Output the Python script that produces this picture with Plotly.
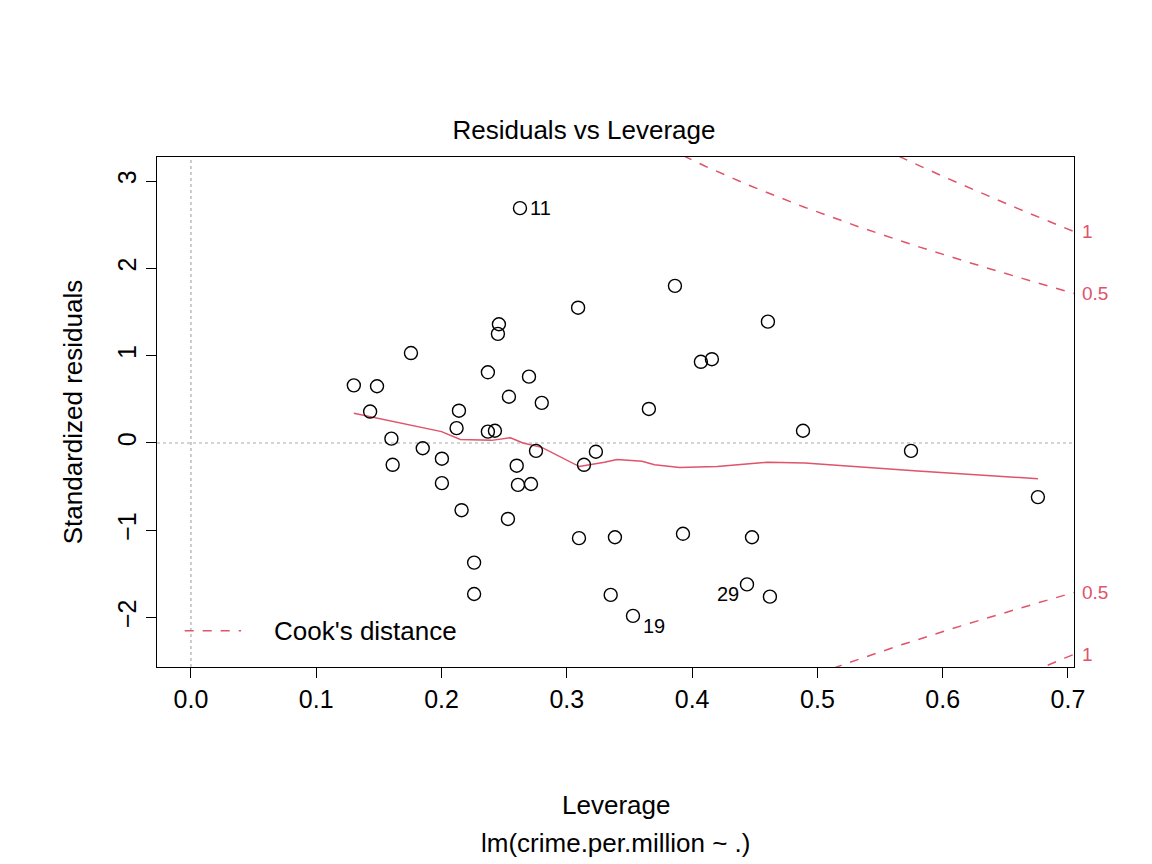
import numpy as np
import plotly.graph_objects as go

# leverage / standardized residuals
leverage = [0.2626, 0.130, 0.1485, 0.143, 0.1756, 0.160, 0.161, 0.185, 0.2003, 0.2003,
            0.2139, 0.212, 0.216, 0.226, 0.226, 0.237, 0.237, 0.2426, 0.2458, 0.245,
            0.2538, 0.253, 0.260, 0.261, 0.2698, 0.2714, 0.2754, 0.280, 0.309, 0.3097,
            0.3137, 0.3232, 0.3384, 0.335, 0.3528, 0.3655, 0.3863, 0.3927, 0.407, 0.4158,
            0.4478, 0.4438, 0.4605, 0.4621, 0.4885, 0.5747, 0.676]
std_resid = [2.69, 0.66, 0.65, 0.36, 1.03, 0.05, -0.25, -0.06, -0.18, -0.46,
             0.37, 0.17, -0.77, -1.37, -1.73, 0.81, 0.13, 0.14, 1.36, 1.25,
             0.53, -0.87, -0.26, -0.48, 0.76, -0.47, -0.09, 0.46, 1.55, -1.09,
             -0.25, -0.10, -1.08, -1.74, -1.98, 0.39, 1.80, -1.04, 0.93, 0.96,
             -1.08, -1.62, 1.39, -1.76, 0.14, -0.09, -0.62]
labels = {0: ("11", "right"), 34: ("19", "right"), 41: ("29", "left")}

smooth_x = [0.13, 0.16, 0.2, 0.215, 0.24, 0.255, 0.265, 0.28, 0.31, 0.33, 0.34,
            0.36, 0.37, 0.39, 0.42, 0.46, 0.49, 0.58, 0.676]
smooth_y = [0.34, 0.25, 0.13, 0.04, 0.03, 0.06, 0.0, -0.05, -0.27, -0.22, -0.19,
            -0.21, -0.25, -0.28, -0.27, -0.22, -0.23, -0.32, -0.41]

n_params = 14
cook_levels = [0.5, 1]
RED = "#DF536B"
FONT = "Liberation Sans"

xr = [-0.0271, 0.7048]
yr = [-2.566, 3.276]

fig = go.Figure()
fig.add_trace(go.Scatter(x=[xr[0], xr[1]], y=[0, 0], mode="lines",
                         line=dict(color="#aaaaaa", dash="dot", width=1.2), showlegend=False))
fig.add_trace(go.Scatter(x=[0, 0], y=[yr[0], yr[1]], mode="lines",
                         line=dict(color="#aaaaaa", dash="dot", width=1.2), showlegend=False))

h = np.linspace(0.01, 0.7048, 300)
for c in cook_levels:
    r = np.sqrt(c * n_params * (1 - h) / h)
    for sgn in (1, -1):
        fig.add_trace(go.Scatter(x=h, y=sgn * r, mode="lines",
                                 line=dict(color=RED, dash="dash", width=1.5), showlegend=False))
        fig.add_annotation(x=1, xref="paper", xshift=6, y=sgn * r[-1], text=str(c),
                           showarrow=False, xanchor="left", font=dict(color=RED, size=19, family=FONT))

fig.add_trace(go.Scatter(x=smooth_x, y=smooth_y, mode="lines",
                         line=dict(color=RED, width=1.5), showlegend=False))
fig.add_trace(go.Scatter(x=leverage, y=std_resid, mode="markers",
                         marker=dict(symbol="circle-open", size=13, color="black",
                                     line=dict(width=1.4)), showlegend=False))
for i, (t, side) in labels.items():
    fig.add_annotation(x=leverage[i], y=std_resid[i], text=t, showarrow=False,
                       xanchor="left" if side == "right" else "right",
                       xshift=8 if side == "right" else -6,
                       yshift=0 if i == 0 else -10,
                       font=dict(size=20, family=FONT, color="black"))

# legend
fig.add_trace(go.Scatter(x=[-0.005, 0.04], y=[-2.15, -2.15], mode="lines",
                         line=dict(color=RED, dash="dash", width=1.5), showlegend=False))
fig.add_annotation(x=0.065, y=-2.15, text="Cook's distance", showarrow=False, xanchor="left",
                   font=dict(size=26, family=FONT, color="black"))

fig.update_layout(
    width=1152, height=864, plot_bgcolor="white", paper_bgcolor="white",
    margin=dict(l=149, r=86, t=149, b=205),
    font=dict(family=FONT, size=25, color="black"),
    title=dict(text="Residuals vs Leverage", x=0.5, xanchor="center", y=1 - 122 / 864,
               yanchor="middle", font=dict(size=26)),
    xaxis=dict(range=xr, tickvals=[0, 0.1, 0.2, 0.3, 0.4, 0.5, 0.6, 0.7],
               ticktext=["0.0", "0.1", "0.2", "0.3", "0.4", "0.5", "0.6", "0.7"],
               showgrid=False, zeroline=False, showline=True, mirror=True, linecolor="black",
               ticks="outside", ticklen=10, tickcolor="black", tickfont=dict(size=25)),
    yaxis=dict(range=yr, tickvals=[-2, -1, 0, 1, 2, 3], tickangle=-90,
               showgrid=False, zeroline=False, showline=True, mirror=True, linecolor="black",
               ticks="outside", ticklen=10, tickcolor="black", tickfont=dict(size=25),
               title=dict(text="Standardized residuals", font=dict(size=26), standoff=22)),
)
fig.add_annotation(x=0.5, xref="paper", y=-(805 - 667) / 510, yref="paper", yanchor="middle",
                   text="Leverage", showarrow=False, font=dict(size=26))
fig.add_annotation(x=0.5, xref="paper", y=-(843 - 667) / 510, yref="paper", yanchor="middle",
                   text="lm(crime.per.million ~ .)", showarrow=False, font=dict(size=26))

fig.write_html("out.html")
